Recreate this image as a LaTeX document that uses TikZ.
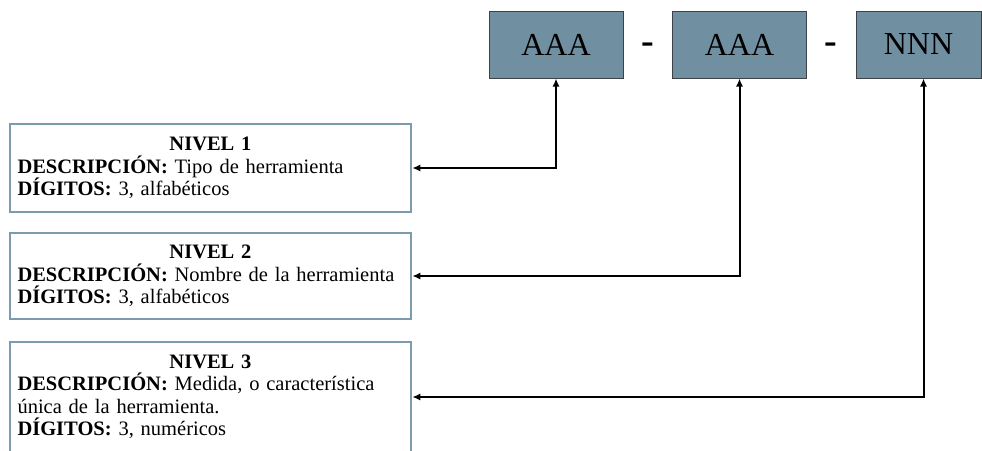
\documentclass[tikz,border=0pt]{standalone}
\usepackage{fontspec}
\setmainfont{Liberation Serif}
\usepackage{tikz}
\usetikzlibrary{arrows.meta}
\definecolor{codefill}{RGB}{112,143,160}
\definecolor{codeborder}{RGB}{60,66,72}
\definecolor{levelblue}{RGB}{125,155,175}

\begin{document}
\begin{tikzpicture}[
  x=1pt, y=-1pt,
  code/.style={rectangle, draw=codeborder, fill=codefill, line width=1pt, minimum width=134pt, minimum height=67pt, inner sep=0pt, font=\fontsize{32}{38}\selectfont},
  sepmark/.style={inner sep=0pt, anchor=base, font=\fontsize{38}{40}\selectfont\bfseries},
  level/.style={rectangle, draw=levelblue, line width=2.5pt, text width=386pt, inner xsep=7.5pt, inner ysep=0pt, execute at begin node=\raggedright, font=\fontsize{20.5}{22.5}\selectfont},
  arr/.style={{Latex[length=8pt,width=7pt]}-{Latex[length=8pt,width=7pt]}, line width=2pt}
]
\clip (0,0) rectangle (982,450);

% Row 1: the code AAA - AAA - NNN
\node[code] (aaa1) at (556,44.5)   {AAA};
\node[code] (aaa2) at (739.5,44.5) {AAA};
\node[code, minimum width=125pt] (nnn) at (918.5,44.5) {NNN};
\node[sepmark] (sep1) at (648,53) {-};
\node[sepmark] (sep2) at (831,53) {-};

% Left column: one box per level
\node[level, minimum height=88pt] (lvl1) at (210.5,168) {\centerline{\bfseries NIVEL 1}
  \textbf{DESCRIPCIÓN:} Tipo de herramienta\\
  \textbf{DÍGITOS:} 3, alfabéticos};
\node[level, minimum height=86pt] (lvl2) at (210.5,276) {\centerline{\bfseries NIVEL 2}
  \textbf{DESCRIPCIÓN:} Nombre de la herramienta\\
  \textbf{DÍGITOS:} 3, alfabéticos};
\node[level, minimum height=110pt] (lvl3) at (210.5,397) {\centerline{\bfseries NIVEL 3}
  \textbf{DESCRIPCIÓN:} Medida, o característica\\
  única de la herramienta.\\
  \textbf{DÍGITOS:} 3, numéricos};

% elbows from each part of the code down to its level
\draw[arr] (aaa1.south) |- (lvl1.east);
\draw[arr] (aaa2.south) |- (lvl2.east);
\draw[arr] ([xshift=5pt]nnn.south) |- (lvl3.east);
\end{tikzpicture}
\end{document}
